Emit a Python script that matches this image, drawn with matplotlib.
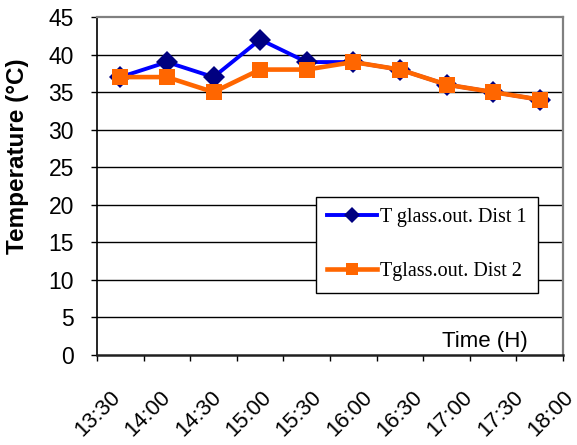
import matplotlib.pyplot as plt
import matplotlib.transforms as mtransforms

# data
times = ["13:30", "14:00", "14:30", "15:00", "15:30", "16:00", "16:30", "17:00", "17:30", "18:00"]
dist1 = [37, 39, 37, 42, 39, 39, 38, 36, 35, 34]
dist2 = [37, 37, 35, 38, 38, 39, 38, 36, 35, 34]
yticks = [0, 5, 10, 15, 20, 25, 30, 35, 40, 45]

fig = plt.figure(figsize=(5.77, 4.45), dpi=100)
ax = fig.add_axes([97 / 577, 90 / 445, 466 / 577, 338 / 445])

x = list(range(len(times)))

# horizontal grid
for v in yticks[1:-1]:
    ax.axhline(v, color="black", lw=1, zorder=1)

ax.plot(x, dist1, color="#0000FF", lw=2.8, marker="D", markersize=11.5,
        markerfacecolor="#000080", markeredgecolor="#000080", markeredgewidth=0,
        label="T glass.out. Dist 1", zorder=3)
ax.plot(x, dist2, color="#FF6600", lw=3.3, marker="s", markersize=11.5,
        markerfacecolor="#FF6600", markeredgewidth=0,
        label="Tglass.out. Dist 2", zorder=4)

ax.set_xlim(-0.5, len(times) - 0.5)
ax.set_ylim(0, 45)
ax.set_yticks(yticks)
ax.set_xticks([i - 0.5 for i in range(len(times) + 1)])
ax.set_xticklabels([])
ax.tick_params(axis="x", direction="out", length=4.5, width=1, color="black")
ax.tick_params(axis="y", direction="out", length=4.5, width=1, color="black", pad=12)
for lab in ax.get_yticklabels():
    lab.set_fontfamily("Liberation Sans")
    lab.set_fontsize(16.5)

ax.spines["top"].set_color("#808080")
ax.spines["top"].set_linewidth(1.6)
ax.spines["right"].set_color("#808080")
ax.spines["right"].set_linewidth(1.6)
ax.spines["left"].set_color("black")
ax.spines["left"].set_linewidth(1.2)
ax.spines["bottom"].set_color("#202020")
ax.spines["bottom"].set_linewidth(1.8)

# rotated time labels (spaced a little wider than the categories, as in the original)
trans = mtransforms.blended_transform_factory(ax.transData, ax.transAxes)
for i, t in enumerate(times):
    ax.text(-0.22 + i * 1.08, -0.093, t, transform=trans, rotation=45,
            rotation_mode="anchor", ha="right", va="top",
            fontsize=15.8, family="Liberation Sans", clip_on=False)

ax.text(0.925, 0.024, "Time (H)", transform=ax.transAxes, ha="right", va="baseline",
        fontsize=16, family="Liberation Sans")

fig.text(18 / 577, 1 - 156 / 445, "Temperature (°C)", rotation=90, ha="center", va="center",
         fontsize=17.5, fontweight="bold", family="Liberation Sans")

leg = ax.legend(loc="upper left", bbox_to_anchor=(0.47, 0.4675), fancybox=False,
                edgecolor="black", framealpha=1, prop={"family": "Liberation Serif", "size": 14.5},
                handlelength=2.5, handletextpad=0.15, labelspacing=1.75, borderpad=0.55,
                borderaxespad=0, markerscale=0.75)
leg.get_frame().set_linewidth(1)
leg.set_zorder(5)

fig.savefig("out.png", dpi=100, facecolor="white")
